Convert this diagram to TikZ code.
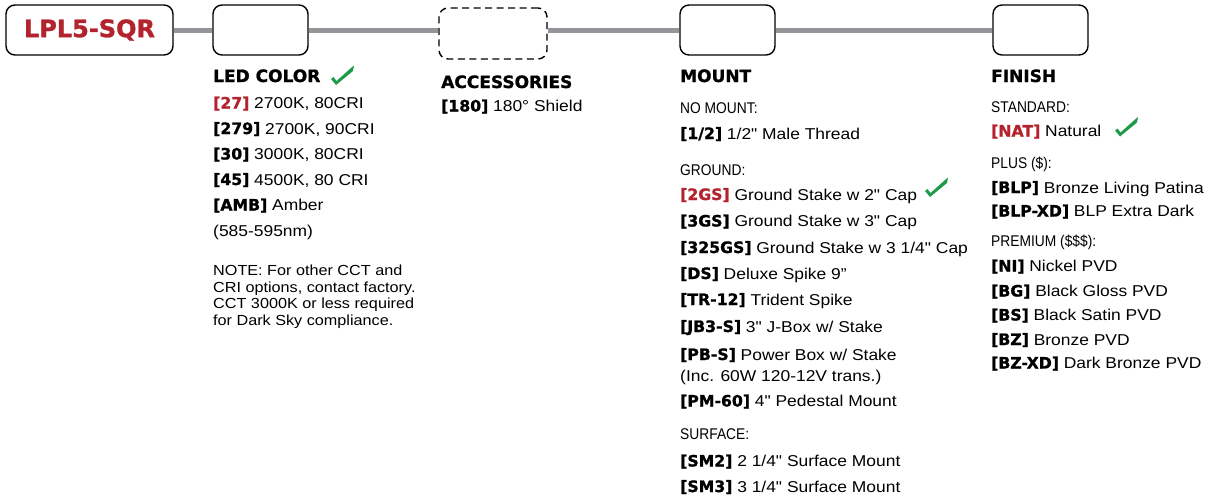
\documentclass[tikz,border=0pt]{standalone}
\usepackage{fontspec}
\setmainfont{Liberation Sans}[FakeStretch=1.11, Ligatures=TeXOff]
\newfontfamily\hvyfam{DejaVu Sans}[BoldFeatures={FakeBold=1.2}]
\newfontfamily\narrowfam{Liberation Sans}[FakeStretch=0.89, Ligatures=TeXOff]
\definecolor{brandred}{HTML}{B3232D}
\definecolor{checkgreen}{HTML}{1E9B48}
\definecolor{linegray}{HTML}{939598}
\newcommand{\cd}[1]{{\hvyfam\bfseries #1}}
\newcommand{\rcd}[1]{{\hvyfam\bfseries\color{brandred}#1}}
\begin{document}
\begin{tikzpicture}[x=1pt,y=-1pt,
  box/.style={draw=black, fill=white, line width=1.4pt, rounded corners=9pt, inner sep=0pt},
  dbox/.style={draw=black, fill=white, line width=1.4pt, rounded corners=9pt, inner sep=0pt, dash pattern=on 7pt off 4.5pt},
  txt/.style={anchor=base west, inner sep=0pt, font=\fontsize{15.7}{16.5}\selectfont},
  note/.style={anchor=base west, inner sep=0pt, font=\fontsize{14.6}{16.5}\selectfont},
  hdr/.style={anchor=base west, inner sep=0pt, font=\hvyfam\bfseries\fontsize{17}{17}\selectfont},
  sub/.style={anchor=base west, inner sep=0pt, font=\narrowfam\fontsize{15.5}{16.5}\selectfont},
  chk/.pic={\fill[checkgreen] (-4.5,-5.5) -- (-2,-7.5) -- (1,-3.5) -- (15.5,-16.5) -- (18.5,-19) -- (17.5,-13.5) -- (0.5,0.5) -- cycle;}
]
\useasboundingbox (0,0) rectangle (1209,501);

% boxes
\node[box, minimum width=167pt, minimum height=50pt, text=brandred,
      font=\hvyfam\bfseries\fontsize{24}{24}\selectfont] (base) at (89.5,30) {LPL5-SQR};
\node[box, minimum width=95pt, minimum height=50pt] (led) at (260.5,30) {};
\node[dbox, minimum width=108pt, minimum height=51pt] (acc) at (493,33.5) {};
\node[box, minimum width=95pt, minimum height=50pt] (mount) at (727.5,30) {};
\node[box, minimum width=95pt, minimum height=50pt] (finish) at (1040.5,30) {};

% connector line
\draw[linegray, line width=5pt] (base.east) -- (led.west);
\draw[linegray, line width=5pt] (led.east) -- (acc.west |- led.east);
\draw[linegray, line width=5pt] (acc.east |- led.east) -- (mount.west);
\draw[linegray, line width=5pt] (mount.east) -- (finish.west);

% LED COLOR
\node[hdr] (ledh) at (213,82) {LED COLOR};
\pic at (335.5,84.5) {chk};
\node[txt] (l1) at (213,108.5) {\rcd{[27]} 2700K, 80CRI};
\node[txt] (l2) at (213,134) {\cd{[279]} 2700K, 90CRI};
\node[txt] (l3) at (213,159.5) {\cd{[30]} 3000K, 80CRI};
\node[txt] (l4) at (213,185) {\cd{[45]} 4500K, 80 CRI};
\node[txt] (l5) at (213,210.5) {\cd{[AMB]} Amber};
\node[txt] (l6) at (213,236.5) {(585-595nm)};
\node[note] (n1) at (213,275.7) {NOTE: For other CCT and};
\node[note] (n2) at (213,292.2) {CRI options, contact factory.};
\node[note] (n3) at (213,308.7) {CCT 3000K or less required};
\node[note] (n4) at (213,325.2) {for Dark Sky compliance.};

% ACCESSORIES
\node[hdr] (acch) at (441,88) {ACCESSORIES};
\node[txt] (a1) at (441,111.5) {\cd{[180]} 180° Shield};

% MOUNT
\node[hdr] (mh) at (680,82) {MOUNT};
\node[sub] (m0) at (680,113.5) {NO MOUNT:};
\node[txt] (m1) at (680,139) {\cd{[1/2]} 1/2" Male Thread};
\node[sub] (mg) at (680,175) {GROUND:};
\node[txt] (m2) at (680,200) {\rcd{[2GS]} Ground Stake w 2" Cap};
\pic at (929.5,196.5) {chk};
\node[txt] (m3) at (680,226.5) {\cd{[3GS]} Ground Stake w 3" Cap};
\node[txt] (m4) at (680,253) {\cd{[325GS]} Ground Stake w 3 1/4" Cap};
\node[txt] (m5) at (680,279) {\cd{[DS]} Deluxe Spike 9”};
\node[txt] (m6) at (680,305) {\cd{[TR-12]} Trident Spike};
\node[txt] (m7) at (680,332) {\cd{[JB3-S]} 3" J-Box w/ Stake};
\node[txt] (m8) at (680,360) {\cd{[PB-S]} Power Box w/ Stake};
\node[txt] (m9) at (680,381.5) {(Inc. 60W 120-12V trans.)};
\node[txt] (m10) at (680,406.5) {\cd{[PM-60]} 4" Pedestal Mount};
\node[sub] (ms) at (680,439) {SURFACE:};
\node[txt] (m11) at (680,466.5) {\cd{[SM2]} 2 1/4" Surface Mount};
\node[txt] (m12) at (680,492) {\cd{[SM3]} 3 1/4" Surface Mount};

% FINISH
\node[hdr] (fh) at (991,82) {FINISH};
\node[sub] (fs) at (991,112) {STANDARD:};
\node[txt] (f1) at (991,136.5) {\rcd{[NAT]} Natural};
\pic at (1119.5,136) {chk};
\node[sub] (fp) at (991,168) {PLUS (\$):};
\node[txt] (f2) at (991,193) {\cd{[BLP]} Bronze Living Patina};
\node[txt] (f3) at (991,216.5) {\cd{[BLP-XD]} BLP Extra Dark};
\node[sub] (fpr) at (991,246.5) {PREMIUM (\$\$\$):};
\node[txt] (f4) at (991,271.5) {\cd{[NI]} Nickel PVD};
\node[txt] (f5) at (991,296.5) {\cd{[BG]} Black Gloss PVD};
\node[txt] (f6) at (991,320.5) {\cd{[BS]} Black Satin PVD};
\node[txt] (f7) at (991,345) {\cd{[BZ]} Bronze PVD};
\node[txt] (f8) at (991,368.5) {\cd{[BZ-XD]} Dark Bronze PVD};
\end{tikzpicture}
\end{document}
